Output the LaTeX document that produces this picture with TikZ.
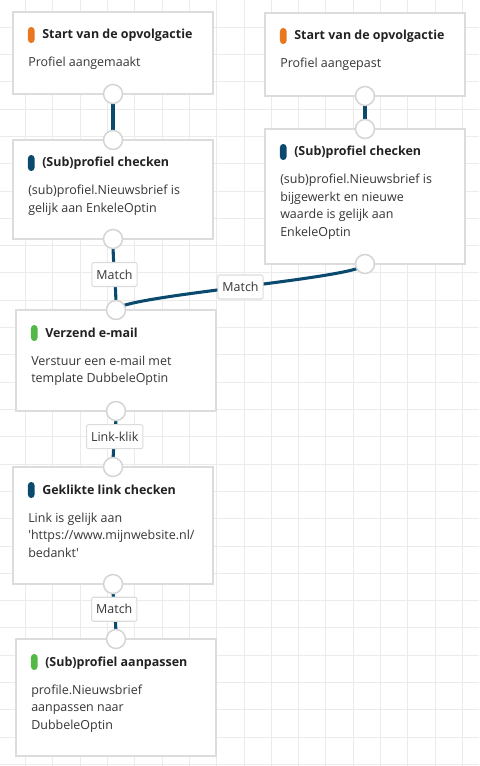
\documentclass[tikz,border=0pt]{standalone}
\usepackage{fontspec}
\setmainfont{Open Sans}
\usetikzlibrary{calc}
\definecolor{gridc}{HTML}{EBEBEB}
\definecolor{cardline}{HTML}{DCDCDC}
\definecolor{portline}{HTML}{D4D4D4}
\definecolor{connc}{HTML}{0B4A6F}
\definecolor{orangebar}{HTML}{E8771F}
\definecolor{bluebar}{HTML}{0B4A6F}
\definecolor{greenbar}{HTML}{52B848}
\definecolor{ttlc}{HTML}{222222}
\definecolor{txtc}{HTML}{363636}
\pgfdeclarelayer{bg}
\pgfdeclarelayer{mid}
\pgfsetlayers{bg,mid,main}
\tikzset{
  card/.style={draw=cardline, line width=1.1pt, fill=white, minimum width=150pt, inner sep=0pt, outer sep=0pt},
  bar/.style={rounded corners=2.4pt, minimum width=4.9pt, minimum height=12pt, inner sep=0pt},
  ttl/.style={anchor=base west, inner sep=0pt, font=\fontsize{9.35}{12}\selectfont\bfseries, text=ttlc},
  bodytxt/.style={anchor=base west, inner sep=0pt, font=\fontsize{9.35}{12}\selectfont, text=txtc},
  port/.style={circle, draw=portline, line width=1.1pt, fill=white, minimum size=14.25pt, inner sep=0pt},
  conn/.style={draw=connc, line width=2.3pt},
  lbl/.style={draw=cardline, line width=0.8pt, fill=white, rounded corners=1.5pt, inner xsep=3.4pt, inner ysep=0pt, minimum height=18pt, font=\fontsize{9.35}{11}\selectfont, text=txtc},
  gridline/.style={draw=gridc, line width=0.75pt}
}
\newcommand\wfcard[7]{%
  \node[card, minimum height=#4, anchor=north west] (#1) at (#2,#3) {};
  \node[bar, fill=#5] (#1-bar) at ($(#1.north west)+(18.25,23)$) {};
  \node[ttl] (#1-title) at ($(#1.north west)+(29,27)$) {#6};
  \foreach \ln [count=\k] in {#7} {\node[bodytxt] (#1-l\k) at ($(#1.north west)+(15,{55+17.5*(\k-1)})$) {\ln};}
}
\begin{document}
\begin{tikzpicture}[x=0.75pt,y=-0.75pt]
\useasboundingbox (0,0) rectangle (479,766);
\begin{pgfonlayer}{bg}
  \fill[white] (0,0) rectangle (479,766);
  \foreach \i in {-1,...,17} {\draw[gridline] ({25.6+27.3*\i},0) -- ({25.6+27.3*\i},766);}
  \foreach \j in {0,...,28} {\draw[gridline] (0,{27.3*\j}) -- (479,{27.3*\j});}
\end{pgfonlayer}

\wfcard{c1}{13}{12}{61.5pt}{orangebar}{Start van de opvolgactie}{{Profiel aangemaakt}}
\wfcard{c2}{13}{140}{74.25pt}{bluebar}{(Sub)profiel checken}{{(sub)profiel.Nieuwsbrief is},{gelijk aan EnkeleOptin}}
\wfcard{r1}{265}{13}{62.25pt}{orangebar}{Start van de opvolgactie}{{Profiel aangepast}}
\wfcard{r2}{265}{129}{101.25pt}{bluebar}{(Sub)profiel checken}{{(sub)profiel.Nieuwsbrief is},{bijgewerkt en nieuwe},{waarde is gelijk aan},{EnkeleOptin}}
\wfcard{v}{16}{310}{75.75pt}{greenbar}{Verzend e-mail}{{Verstuur een e-mail met},{template DubbeleOptin}}
\wfcard{g}{13}{467}{87.75pt}{bluebar}{Geklikte link checken}{{Link is gelijk aan},{\textquotesingle https://www.mijnwebsite.nl/},{bedankt\textquotesingle}}
\wfcard{a}{16}{639}{87.75pt}{greenbar}{(Sub)profiel aanpassen}{{profile.Nieuwsbrief},{aanpassen naar},{DubbeleOptin}}

\node[port] (c1-out) at (c1.south) {};
\node[port] (c2-in) at (c2.north) {};
\node[port] (c2-out) at (c2.south) {};
\node[port] (r1-out) at (r1.south) {};
\node[port] (r2-in) at (r2.north) {};
\node[port] (r2-out) at (r2.south) {};
\node[port] (v-in) at (v.north) {};
\node[port] (v-out) at (v.south) {};
\node[port] (g-in) at (g.north) {};
\node[port] (g-out) at (g.south) {};
\node[port] (a-in) at (a.north) {};

\begin{pgfonlayer}{mid}
  \draw[conn] (c1-out.center) .. controls +(0,20) and +(0,-20) .. (c2-in.center);
  \draw[conn] (r1-out.center) .. controls +(0,15) and +(0,-15) .. (r2-in.center);
  \draw[conn] (c2-out.center) .. controls +(0,30) and +(0,-30) .. (v-in.center) node[lbl, pos=0.5] (m1) {Match};
  \draw[conn] (r2-out.center) .. controls +(0,14) and +(0,-14) .. (v-in.center) node[lbl, pos=0.5] (m2) {Match};
  \draw[conn] (v-out.center) .. controls +(0,25) and +(0,-25) .. (g-in.center) node[lbl, pos=0.45] (lk) {Link-klik};
  \draw[conn] (g-out.center) .. controls +(0,25) and +(0,-25) .. (a-in.center) node[lbl, pos=0.45] (m3) {Match};
\end{pgfonlayer}
\end{tikzpicture}
\end{document}
